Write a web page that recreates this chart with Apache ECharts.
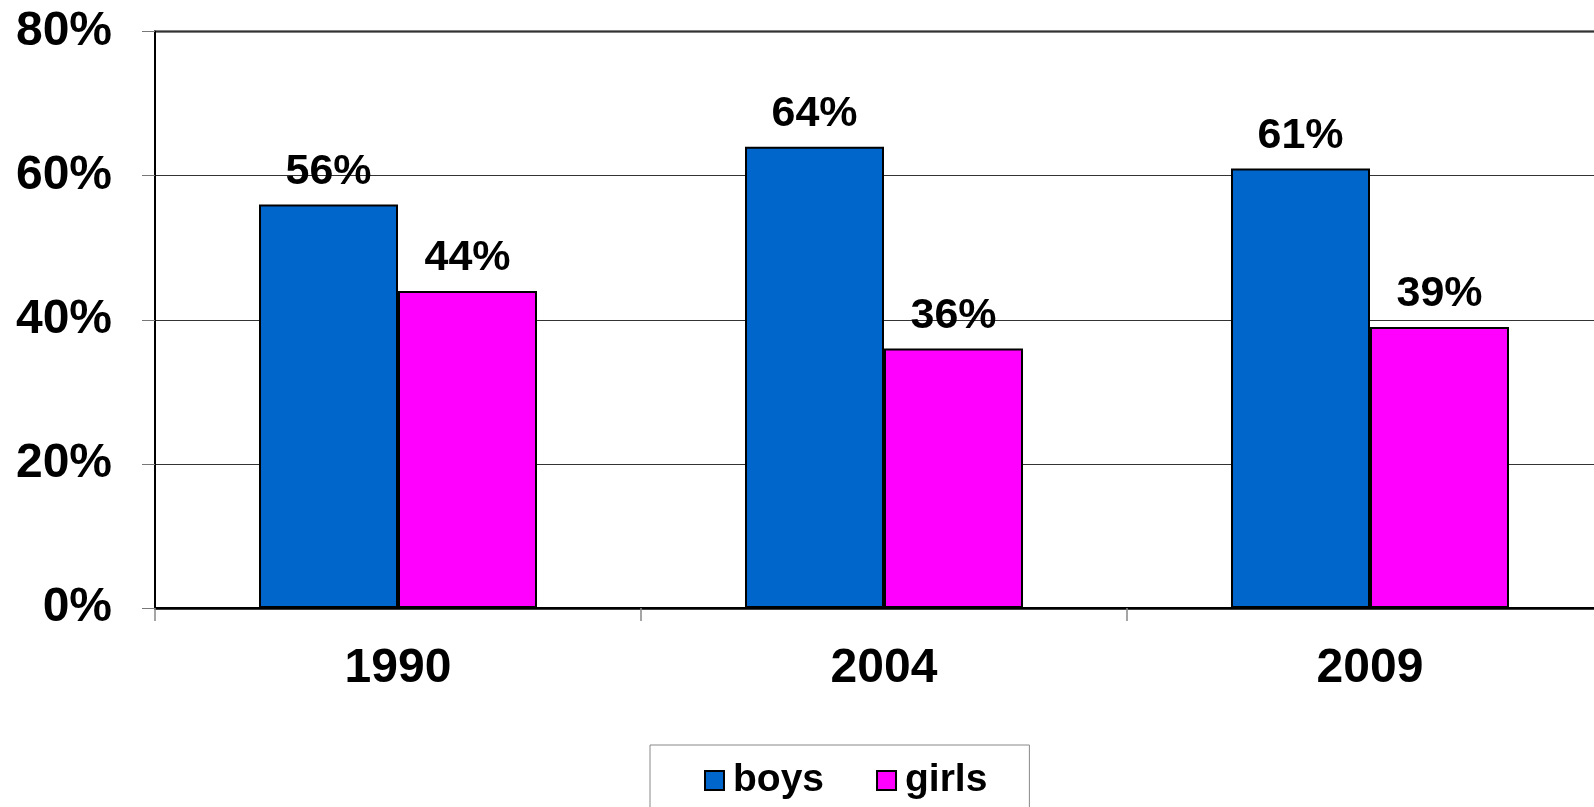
<!DOCTYPE html>
<html>
<head>
<meta charset="utf-8">
<script src="https://cdn.jsdelivr.net/npm/echarts@6/dist/echarts.min.js"></script>
<style>
html,body{margin:0;padding:0;background:#fff;}
#c{width:1594px;height:807px;}
</style>
</head>
<body>
<div id="c"></div>
<script>
const categories = ['1990', '2004', '2009'];
const boys = [56, 64, 61];
const girls = [44, 36, 39];
const yTicks = [0, 20, 40, 60, 80];

const FONT = '"Liberation Sans", Arial, sans-serif';
const chart = echarts.init(document.getElementById('c'));
const labelCfg = {
  show: true,
  position: 'top',
  distance: 11,
  formatter: '{c}%',
  color: '#000',
  fontFamily: FONT,
  fontWeight: 'bold',
  fontSize: 43
};
chart.setOption({
  animation: false,
  backgroundColor: '#fff',
  grid: {
    left: 155, top: 31.5, bottom: 199, width: 1458,
    outerBoundsMode: 'none', containLabel: false,
    show: true, borderColor: '#000', borderWidth: 2, backgroundColor: 'transparent'
  },
  legend: {
    data: ['boys', 'girls'],
    left: 650, top: 745,
    padding: [16, 42, 40, 54],
    itemGap: 52,
    itemWidth: 19, itemHeight: 19,
    borderColor: '#888', borderWidth: 1,
    icon: 'rect',
    textStyle: { fontFamily: FONT, fontWeight: 'bold', fontSize: 39, color: '#000', padding: [0, 0, 0, 4] }
  },
  xAxis: {
    type: 'category',
    data: categories,
    axisLine: { lineStyle: { color: '#000', width: 2.5 } },
    axisTick: { show: true, length: 13, lineStyle: { color: '#888', width: 1.5 } },
    axisLabel: { fontFamily: FONT, fontWeight: 'bold', fontSize: 48, color: '#000', margin: 37 }
  },
  yAxis: {
    type: 'value',
    min: yTicks[0], max: yTicks[yTicks.length - 1], interval: 20,
    axisLine: { show: true, lineStyle: { color: '#000', width: 2 } },
    axisTick: { show: true, length: 13, lineStyle: { color: '#777', width: 1 } },
    splitLine: { lineStyle: { color: '#333', width: 1 } },
    axisLabel: { formatter: '{value}%', fontFamily: FONT, fontWeight: 'bold', fontSize: 48, color: '#000', margin: 43 }
  },
  series: [
    {
      name: 'boys', type: 'bar', data: boys,
      barGap: '0%', barCategoryGap: '42.8%',
      itemStyle: { color: '#0066CC', borderColor: '#000', borderWidth: 2 },
      label: labelCfg
    },
    {
      name: 'girls', type: 'bar', data: girls,
      itemStyle: { color: '#FF00FF', borderColor: '#000', borderWidth: 2 },
      label: labelCfg
    }
  ]
});
</script>
</body>
</html>
